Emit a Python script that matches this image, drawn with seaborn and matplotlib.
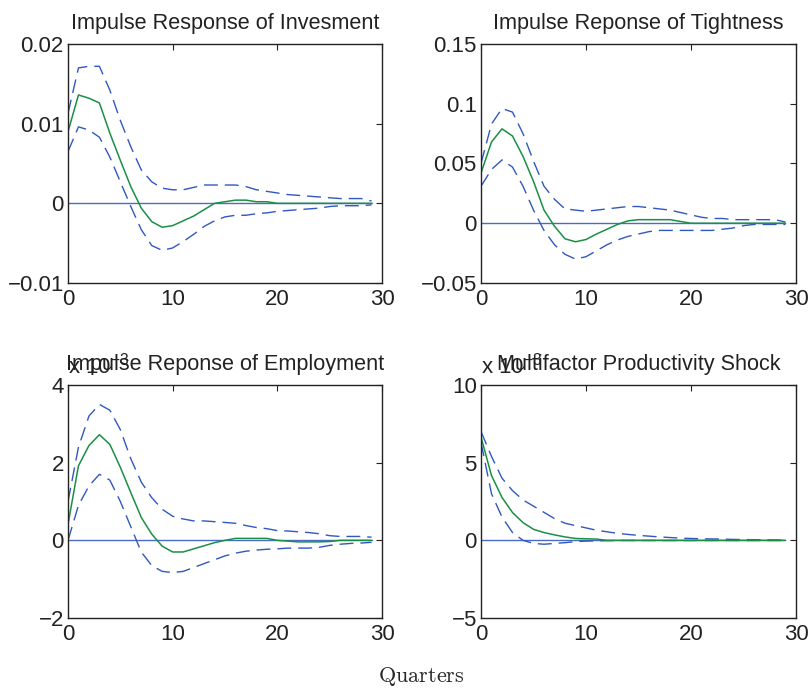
import numpy as np
import pandas as pd
import matplotlib
matplotlib.use("Agg")
import matplotlib.pyplot as plt
import seaborn as sns

sns.set_style("white")
plt.rcParams['font.family'] = ['Liberation Sans', 'DejaVu Sans']
plt.rcParams['mathtext.fontset'] = 'custom'
plt.rcParams['mathtext.rm'] = 'Liberation Sans'
plt.rcParams['mathtext.it'] = 'Liberation Sans'

quarters = list(range(30))

# Investment
inv_mean = [0.0090, 0.0136, 0.0132, 0.0126, 0.0088, 0.0054, 0.0021, -0.0006, -0.0023, -0.0030,
            -0.0028, -0.0022, -0.0016, -0.0008, 0.0000, 0.0002, 0.0004, 0.0004, 0.0002, 0.0002,
            0.0000, 0.0000, 0.0000, 0.0000, 0.0000, 0.0000, 0.0000, 0.0000, 0.0000, 0.0000]
inv_upper = [0.0113, 0.0170, 0.0172, 0.0172, 0.0142, 0.0104, 0.0071, 0.0042, 0.0027, 0.0019,
             0.0017, 0.0017, 0.0020, 0.0023, 0.0023, 0.0023, 0.0023, 0.0021, 0.0017, 0.0015,
             0.0013, 0.0011, 0.0010, 0.0009, 0.0008, 0.0007, 0.0006, 0.0006, 0.0006, 0.0003]
inv_lower = [0.0065, 0.0096, 0.0092, 0.0083, 0.0058, 0.0027, -0.0004, -0.0033, -0.0053, -0.0059,
             -0.0056, -0.0048, -0.0039, -0.0029, -0.0022, -0.0017, -0.0015, -0.0015, -0.0013, -0.0012,
             -0.0010, -0.0009, -0.0008, -0.0007, -0.0006, -0.0004, -0.0003, -0.0003, -0.0003, -0.0002]

# Tightness
tig_mean = [0.042, 0.068, 0.079, 0.073, 0.056, 0.035, 0.011, -0.0025, -0.013, -0.0155,
            -0.0136, -0.009, -0.005, -0.001, 0.002, 0.003, 0.003, 0.003, 0.003, 0.0015,
            0.0, 0.0, 0.0, 0.0, 0.0, 0.0, 0.0, 0.0, 0.0, 0.0]
tig_upper = [0.050, 0.083, 0.096, 0.093, 0.075, 0.052, 0.031, 0.020, 0.012, 0.011,
             0.010, 0.011, 0.012, 0.013, 0.014, 0.014, 0.013, 0.012, 0.011, 0.009,
             0.007, 0.005, 0.004, 0.004, 0.003, 0.003, 0.003, 0.003, 0.003, 0.001]
tig_lower = [0.031, 0.045, 0.053, 0.047, 0.031, 0.011, -0.006, -0.018, -0.026, -0.030,
             -0.028, -0.023, -0.018, -0.014, -0.011, -0.009, -0.007, -0.006, -0.006, -0.006,
             -0.006, -0.006, -0.006, -0.005, -0.004, -0.002, -0.001, -0.001, -0.001, -0.001]

# Employment (x 10^-3)
emp_mean = [0.41, 1.92, 2.44, 2.72, 2.47, 1.88, 1.23, 0.59, 0.16, -0.15,
            -0.30, -0.30, -0.22, -0.14, -0.06, 0.00, 0.05, 0.05, 0.05, 0.05,
            0.00, -0.02, -0.04, -0.04, -0.04, -0.03, 0.00, 0.00, 0.00, 0.00]
emp_upper = [1.00, 2.40, 3.20, 3.50, 3.35, 2.85, 2.10, 1.50, 1.10, 0.80,
             0.62, 0.55, 0.50, 0.50, 0.48, 0.46, 0.44, 0.38, 0.33, 0.30,
             0.25, 0.24, 0.22, 0.20, 0.17, 0.12, 0.10, 0.10, 0.10, 0.08]
emp_lower = [0.00, 0.90, 1.40, 1.70, 1.55, 1.00, 0.35, -0.30, -0.65, -0.80,
             -0.83, -0.80, -0.70, -0.60, -0.50, -0.40, -0.33, -0.28, -0.25, -0.23,
             -0.22, -0.20, -0.20, -0.20, -0.18, -0.13, -0.10, -0.08, -0.07, -0.05]

# Multifactor productivity shock (x 10^-3)
mfp_mean = [6.65, 4.17, 2.76, 1.79, 1.14, 0.71, 0.50, 0.35, 0.22, 0.12,
            0.10, 0.08, 0.00, 0.00, 0.00, 0.00, 0.00, 0.00, 0.00, 0.00,
            0.00, 0.00, 0.00, 0.00, 0.00, 0.00, 0.00, 0.00, 0.00, 0.00]
mfp_upper = [7.00, 5.40, 4.00, 3.20, 2.60, 2.20, 1.80, 1.40, 1.10, 0.95,
             0.80, 0.65, 0.55, 0.45, 0.38, 0.32, 0.27, 0.22, 0.18, 0.14,
             0.12, 0.10, 0.09, 0.08, 0.06, 0.05, 0.04, 0.03, 0.02, 0.01]
mfp_lower = [6.30, 3.00, 1.50, 0.50, 0.00, -0.20, -0.25, -0.20, -0.15, -0.08,
             -0.05, -0.03, -0.02, -0.01, -0.01, -0.01, -0.01, -0.01, -0.01, -0.01,
             -0.01, -0.01, -0.01, -0.01, -0.01, -0.01, -0.01, -0.01, -0.01, -0.01]

titles = ["Impulse Response of Invesment", "Impulse Reponse of Tightness",
          "Impulse Reponse of Employment", "Multifactor Productivity Shock"]
ylims = [(-0.01, 0.02), (-0.05, 0.15), (-2, 4), (-5, 10)]
yticks = [[-0.01, 0, 0.01, 0.02], [-0.05, 0, 0.05, 0.1, 0.15], [-2, 0, 2, 4], [-5, 0, 5, 10]]
yticklabels = [["\u22120.01", "0", "0.01", "0.02"], ["\u22120.05", "0", "0.05", "0.1", "0.15"],
               ["\u22122", "0", "2", "4"], ["\u22125", "0", "5", "10"]]
scaled = [False, False, True, True]
series = [(inv_mean, inv_upper, inv_lower), (tig_mean, tig_upper, tig_lower),
          (emp_mean, emp_upper, emp_lower), (mfp_mean, mfp_upper, mfp_lower)]

W, H = 812, 688
fig = plt.figure(figsize=(W / 100, H / 100), dpi=100)
boxes = [(68, 44, 382, 283), (481, 44, 796, 283), (68, 385, 382, 618), (481, 385, 796, 618)]

blue = "#3158c0"
zero_blue = "#4a6cc8"
green = "#1b8f45"
dash = (0, (10, 5))

for i, (l, t, r, b) in enumerate(boxes):
    ax = fig.add_axes([l / W, 1 - b / H, (r - l) / W, (b - t) / H])
    mean, up, lo = series[i]
    df = pd.DataFrame({"q": quarters, "mean": mean, "up": up, "lo": lo,
                       "zero": [0.0] * len(quarters)})
    sns.lineplot(data=df, x="q", y="zero", ax=ax, color=zero_blue, lw=1.0, estimator=None)
    sns.lineplot(data=df, x="q", y="up", ax=ax, color=blue, lw=1.0, estimator=None,
                 linestyle=dash)
    sns.lineplot(data=df, x="q", y="lo", ax=ax, color=blue, lw=1.0, estimator=None,
                 linestyle=dash)
    sns.lineplot(data=df, x="q", y="mean", ax=ax, color=green, lw=1.1, estimator=None)
    ax.set_xlim(0, 30)
    ax.set_ylim(*ylims[i])
    ax.set_xticks([0, 10, 20, 30])
    ax.set_xticklabels(["0", "10", "20", "30"])
    ax.set_yticks(yticks[i])
    ax.set_yticklabels(yticklabels[i])
    ax.set_xlabel("")
    ax.set_ylabel("")
    ax.tick_params(direction="in", length=4, width=0.8, top=True, right=True,
                   labelsize=16, pad=3, colors="#222222", labelcolor="#222222")
    ax.tick_params(axis="x", pad=4)
    for s in ax.spines.values():
        s.set_linewidth(1.0)
        s.set_color("#222222")
        s.set_visible(True)
    ax.set_title(titles[i], fontsize=15.6, pad=11, color="#222222")
    if scaled[i]:
        ax.text(0.0, 1.03, r"x 10$^{-3}$", transform=ax.transAxes, fontsize=16,
                ha="left", va="bottom", color="#222222")

plt.rcParams['mathtext.fontset'] = 'cm'
fig.text(421 / W, 1 - 676 / H, r"$\mathrm{Quarters}$", ha="center", va="center", fontsize=16)

fig.savefig("out.png", dpi=100, facecolor="white")
